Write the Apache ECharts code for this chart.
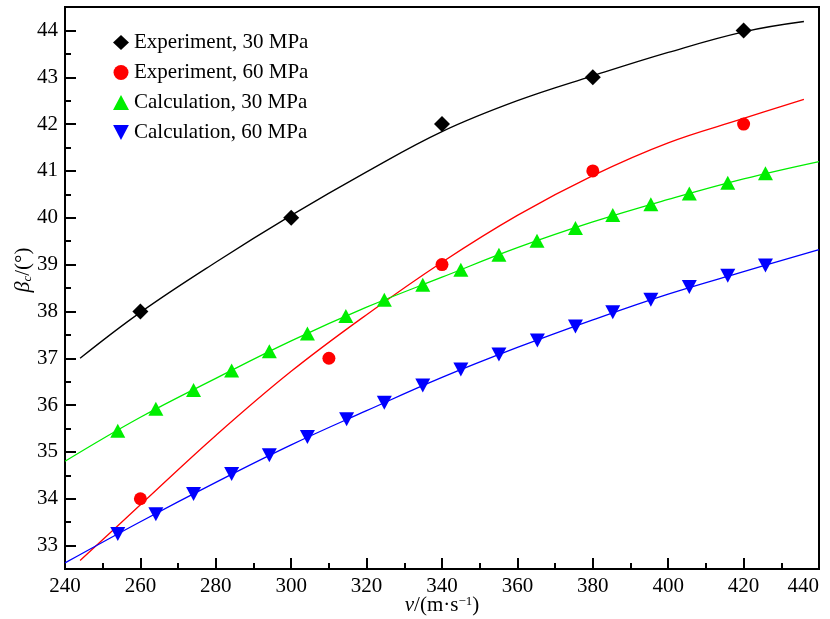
<!DOCTYPE html>
<html>
<head>
<meta charset="utf-8">
<script src="https://cdn.jsdelivr.net/npm/echarts@6/dist/echarts.min.js"></script>
<style>
  html, body { margin: 0; padding: 0; background: #fff; }
  #chartDiv { width: 830px; height: 619px; }
</style>
</head>
<body>
<div id="chartDiv"></div>
<script>
// measured points
var exp30 = [[260, 38.0], [300, 40.0], [340, 42.0], [380, 43.0], [420, 44.0]];
var exp60 = [[260, 34.0], [310, 37.0], [340, 39.0], [380, 41.0], [420, 42.0]];
var calc30 = [[254, 35.45], [264.1, 35.92], [274.1, 36.32], [284.2, 36.74], [294.2, 37.15], [304.3, 37.53],
  [314.5, 37.9], [324.7, 38.25], [334.9, 38.57], [345, 38.89], [355.1, 39.21], [365.2, 39.51],
  [375.4, 39.78], [385.3, 40.06], [395.4, 40.29], [405.6, 40.52], [415.8, 40.75], [425.8, 40.95]];
var calc60 = [[254, 33.25], [264.1, 33.67], [274.1, 34.1], [284.2, 34.53], [294.2, 34.93], [304.3, 35.32],
  [314.7, 35.7], [324.7, 36.05], [334.9, 36.42], [345, 36.76], [355.1, 37.08], [365.3, 37.38],
  [375.4, 37.68], [385.3, 37.98], [395.4, 38.25], [405.6, 38.52], [415.8, 38.76], [425.8, 38.98]];

// curves
var fit30 = [[244, 37.0], [260, 37.98], [280, 39.05], [300, 40.05], [320, 40.98], [340, 41.84],
  [360, 42.5], [380, 43.03], [400, 43.53], [420, 43.97], [436, 44.19]];
var fit60 = [[244, 32.68], [260, 33.87], [280, 35.35], [300, 36.72], [320, 37.93], [340, 39.05],
  [360, 40.05], [380, 40.9], [400, 41.6], [420, 42.12], [436, 42.53]];
var line30 = [[240, 34.8], [260, 35.74], [280, 36.57], [300, 37.37], [320, 38.09], [340, 38.73],
  [360, 39.36], [380, 39.91], [400, 40.39], [420, 40.83], [440, 41.2]];
var line60 = [[240, 32.63], [260, 33.51], [280, 34.35], [300, 35.15], [320, 35.88], [340, 36.59],
  [360, 37.23], [380, 37.82], [400, 38.37], [420, 38.85], [440, 39.32]];

var yTicks = [33, 34, 35, 36, 37, 38, 39, 40, 41, 42, 43, 44];
var yMinorTicks = [33.5, 34.5, 35.5, 36.5, 37.5, 38.5, 39.5, 40.5, 41.5, 42.5, 43.5];

var names = ["Experiment, 30 MPa", "Experiment, 60 MPa", "Calculation, 30 MPa", "Calculation, 60 MPa"];

var FONT = "Liberation Serif";
var downTri = "path://M0,0L20,0L10,19Z";

var myChart = echarts.init(document.getElementById("chartDiv"));

function curve(data, color) {
  return {
    type: "line", data: data, smooth: 0.4, symbol: "none", silent: true,
    lineStyle: { color: color, width: 1.3 }, z: 2
  };
}

function points(name, data, symbol, size, color) {
  return {
    name: name, type: "scatter", data: data, symbol: symbol, symbolSize: size,
    itemStyle: { color: color, opacity: 1 }, z: 3
  };
}

var option = {
  animation: false,
  backgroundColor: "#fff",
  grid: {
    left: 65, top: 7, right: 11, bottom: 50, outerBoundsMode: "none",
    show: true, borderColor: "#000", borderWidth: 2
  },
  legend: {
    orient: "vertical", left: 108, top: 27,
    itemWidth: 16, itemHeight: 15, itemGap: 9,
    textStyle: { fontFamily: FONT, fontSize: 21, color: "#000", lineHeight: 21 },
    data: [
      { name: names[0], icon: "diamond" },
      { name: names[1], icon: "circle" },
      { name: names[2], icon: "triangle" },
      { name: names[3], icon: downTri }
    ]
  },
  xAxis: {
    type: "value", min: 240, max: 440, interval: 20,
    name: "{i|v}/(m·s{sup|−1})",
    nameLocation: "middle", nameGap: 26, nameMoveOverlap: false,
    nameTextStyle: {
      fontFamily: FONT, fontSize: 21, color: "#000",
      rich: {
        i: { fontFamily: FONT, fontSize: 21, fontStyle: "italic", color: "#000" },
        sup: { fontFamily: FONT, fontSize: 13, color: "#000", verticalAlign: "top", padding: [0, 0, 8, 0] }
      }
    },
    axisLine: { lineStyle: { color: "#000", width: 2 } },
    axisTick: { inside: true, length: 11, lineStyle: { color: "#000", width: 2 } },
    minorTick: { show: true, splitNumber: 2, length: 6, lineStyle: { color: "#000", width: 2 } },
    axisLabel: { fontFamily: FONT, fontSize: 21, color: "#000", margin: 7, alignMaxLabel: "right" },
    splitLine: { show: false }
  },
  yAxis: [{
    type: "value", min: 32.5, max: 44.5,
    name: "{i|β}{sub|c}/(°)",
    nameLocation: "middle", nameGap: 31, nameRotate: 90, nameMoveOverlap: false,
    nameTextStyle: {
      fontFamily: FONT, fontSize: 21, color: "#000", padding: [0, 0, 0, 36],
      rich: {
        i: { fontFamily: FONT, fontSize: 22, fontStyle: "italic", color: "#000" },
        sub: { fontFamily: FONT, fontSize: 13, fontStyle: "italic", color: "#000", verticalAlign: "bottom" }
      }
    },
    axisLine: { lineStyle: { color: "#000", width: 2 } },
    axisTick: { inside: true, length: 11, customValues: yTicks, lineStyle: { color: "#000", width: 2 } },
    axisLabel: { fontFamily: FONT, fontSize: 21, color: "#000", margin: 7, customValues: yTicks },
    splitLine: { show: false }
  }, {
    type: "value", min: 32.5, max: 44.5, position: "left",
    axisLine: { show: false },
    axisTick: { inside: true, length: 6, customValues: yMinorTicks, lineStyle: { color: "#000", width: 2 } },
    axisLabel: { show: false },
    splitLine: { show: false }
  }],
  series: [
    curve(fit30, "#000000"),
    curve(fit60, "#ff0000"),
    curve(line30, "#00ee00"),
    curve(line60, "#0000ff"),
    points(names[0], exp30, "diamond", 16, "#000000"),
    points(names[1], exp60, "circle", 13, "#ff0000"),
    points(names[2], calc30, "triangle", [15, 14], "#00ee00"),
    points(names[3], calc60, downTri, [15, 14], "#0000ff")
  ]
};

myChart.setOption(option);

window.addEventListener("resize", function () {
  myChart.resize();
});
</script>
</body>
</html>
